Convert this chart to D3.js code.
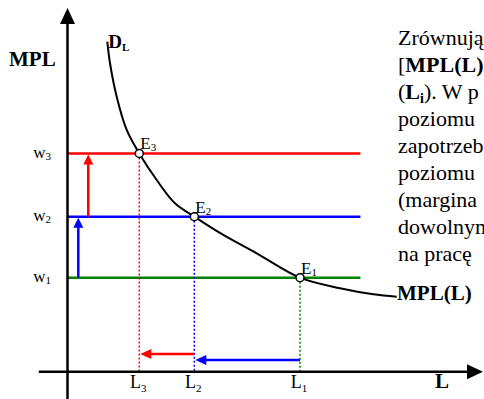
<!DOCTYPE html>
<html>
<head>
<meta charset="utf-8">
<script src="https://cdn.jsdelivr.net/npm/d3@7"></script>
<style>
  body { margin: 0; background: #fff; }
  svg { display: block; }
</style>
</head>
<body>
<svg id="chart" width="484" height="399"></svg>
<script>
// --- data (arbitrary units, 0..100 on both axes) ---
const wageNames = ["1", "2", "3"];
const wageLevels = [25.85, 42.6, 60.0];          // w1, w2, w3
const laborLevels = [55.96, 30.52, 17.28];       // L1, L2, L3 (equilibria E1..E3)
const levelColors = ["#008000", "#0000ff", "#ff0000"];
const wageLineEnd = 70.5;

// demand curve D_L = MPL(L), points as [L, MPL]
const demandL   = [9.58, 10.23, 11.84, 14.25, 17.28, 21.47, 25.87, 30.52, 37.5, 45.54, 55.96, 65.58, 73.6, 79.23];
const demandMPL = [90.73, 84.8, 75.6, 66.46, 60.0, 52.7, 46.3, 42.62, 37.59, 32.55, 25.85, 22.93, 21.28, 20.62];

// shift arrows: wage up (at L = pos) and labour down (at MPL = pos)
const wageArrowPos  = [2.6, 5.0];    // blue w1->w2, red w2->w3
const laborArrowPos = [3.2, 4.87];   // blue L1->L2, red L2->L3

// text block on the right (cut by the page edge, as in the source)
const textLines = [
  [{ t: "Zrównują" }],
  [{ t: "[" }, { t: "MPL(L)", b: true }],
  [{ t: "(" }, { t: "L", b: true }, { t: "i", b: true, sub: true }, { t: "). W p" }],
  [{ t: "poziomu" }],
  [{ t: "zapotrzeb" }],
  [{ t: "poziomu" }],
  [{ t: "(margina" }],
  [{ t: "dowolnym" }],
  [{ t: "na pracę" }]
];

const FONT = '"Liberation Serif", "Times New Roman", serif';

// --- setup ---
const svg = d3.select("#chart");
const x = d3.scaleLinear().domain([0, 100]).range([67.5, 483]);
const y = d3.scaleLinear().domain([0, 100]).range([371.7, 8]);

function addText(px, py, size, bold) {
  return svg.append("text").attr("x", px).attr("y", py)
    .style("font-family", FONT).style("font-size", size + "px")
    .style("font-weight", bold ? "bold" : "normal").style("fill", "#000");
}

// helper: label with subscript
function subLabel(px, py, main, sub, size, subSize, bold, subDy) {
  const t = addText(px, py, size, bold);
  t.append("tspan").text(main);
  t.append("tspan").attr("dy", subDy).style("font-size", subSize + "px").text(sub);
  return t;
}

function arrowHead(tipX, tipY, dir, len, half, color) {
  let pts;
  if (dir === "up") pts = [[tipX, tipY], [tipX - half, tipY + len], [tipX + half, tipY + len]];
  else if (dir === "left") pts = [[tipX, tipY], [tipX + len, tipY - half], [tipX + len, tipY + half]];
  else pts = [[tipX, tipY], [tipX - len, tipY - half], [tipX - len, tipY + half]];
  svg.append("polygon").attr("points", pts.map(p => p.join(",")).join(" ")).attr("fill", color);
}

// --- horizontal wage lines ---
wageLevels.forEach((w, i) => {
  svg.append("line")
    .attr("x1", x(0)).attr("x2", x(wageLineEnd))
    .attr("y1", y(w)).attr("y2", y(w))
    .attr("stroke", levelColors[i]).attr("stroke-width", 2.5);
});

// --- dotted drop lines ---
laborLevels.forEach((l, i) => {
  svg.append("line")
    .attr("x1", x(l)).attr("x2", x(l))
    .attr("y1", y(wageLevels[i])).attr("y2", y(0))
    .attr("stroke", levelColors[i]).attr("stroke-width", 1.5)
    .attr("stroke-dasharray", "2,2");
});

// --- demand curve ---
const curvePts = demandL.map((l, i) => [l, demandMPL[i]]);
svg.append("path")
  .attr("d", d3.line().x(d => x(d[0])).y(d => y(d[1])).curve(d3.curveCatmullRom)(curvePts))
  .attr("fill", "none").attr("stroke", "#000").attr("stroke-width", 2);

// --- shift arrows ---
[0, 1].forEach(i => {
  const c = levelColors[i + 1];
  // vertical: w_i -> w_{i+1}
  const ax = x(wageArrowPos[i]);
  const yTop = y(wageLevels[i + 1]);
  svg.append("line").attr("x1", ax).attr("x2", ax)
    .attr("y1", y(wageLevels[i])).attr("y2", yTop + 8)
    .attr("stroke", c).attr("stroke-width", 2.5);
  arrowHead(ax, yTop + 1, "up", 10, 5, c);
  // horizontal: L_i -> L_{i+1}
  const ay = y(laborArrowPos[i]);
  const xLeft = x(laborLevels[i + 1]);
  svg.append("line").attr("x1", x(laborLevels[i])).attr("x2", xLeft + 9)
    .attr("y1", ay).attr("y2", ay)
    .attr("stroke", c).attr("stroke-width", 2.5);
  arrowHead(xLeft + 1, ay, "left", 11, 5, c);
});

// --- axes ---
svg.append("line").attr("x1", x(0)).attr("x2", x(0))
  .attr("y1", y(-7.5)).attr("y2", y(100) + 14)
  .attr("stroke", "#000").attr("stroke-width", 2.5);
arrowHead(x(0), y(100), "up", 16, 7.5, "#000");
svg.append("line").attr("x1", x(-6.9)).attr("x2", x(100) - 14)
  .attr("y1", y(0)).attr("y2", y(0))
  .attr("stroke", "#000").attr("stroke-width", 2.5);
arrowHead(x(100), y(0), "right", 16, 7.5, "#000");

// --- equilibrium points ---
laborLevels.forEach((l, i) => {
  svg.append("circle").attr("cx", x(l)).attr("cy", y(wageLevels[i])).attr("r", 4)
    .attr("fill", "#fff").attr("stroke", "#000").attr("stroke-width", 1.5);
  subLabel(x(l) + 1, y(wageLevels[i]) - 4, "E", wageNames[i], 17, 11, false, 2);
});

// --- tick labels ---
wageLevels.forEach((w, i) => {
  subLabel(33.3, y(w) + 4.5, "w", wageNames[i], 17, 11, false, 2);
});
laborLevels.forEach((l, i) => {
  subLabel(x(l) - 9.3, 388.3, "L", wageNames[i], 18, 11, false, 3.5);
});

// --- axis titles ---
addText(9, 66, 21, true).text("MPL");
addText(435, 388.3, 21, true).text("L");
subLabel(108.3, 48.3, "D", "L", 19, 11, true, 2.4);
addText(397, 300, 21, true).text("MPL(L)");

// --- text block ---
textLines.forEach((runs, i) => {
  const t = addText(398, 45 + 27 * i, 22, false);
  let shifted = false;
  runs.forEach(r => {
    const s = t.append("tspan").text(r.t).style("font-weight", r.b ? "bold" : "normal");
    if (r.sub) { s.attr("dy", 4).style("font-size", "14px"); shifted = true; }
    else if (shifted) { s.attr("dy", -4); shifted = false; }
  });
});
</script>
</body>
</html>
